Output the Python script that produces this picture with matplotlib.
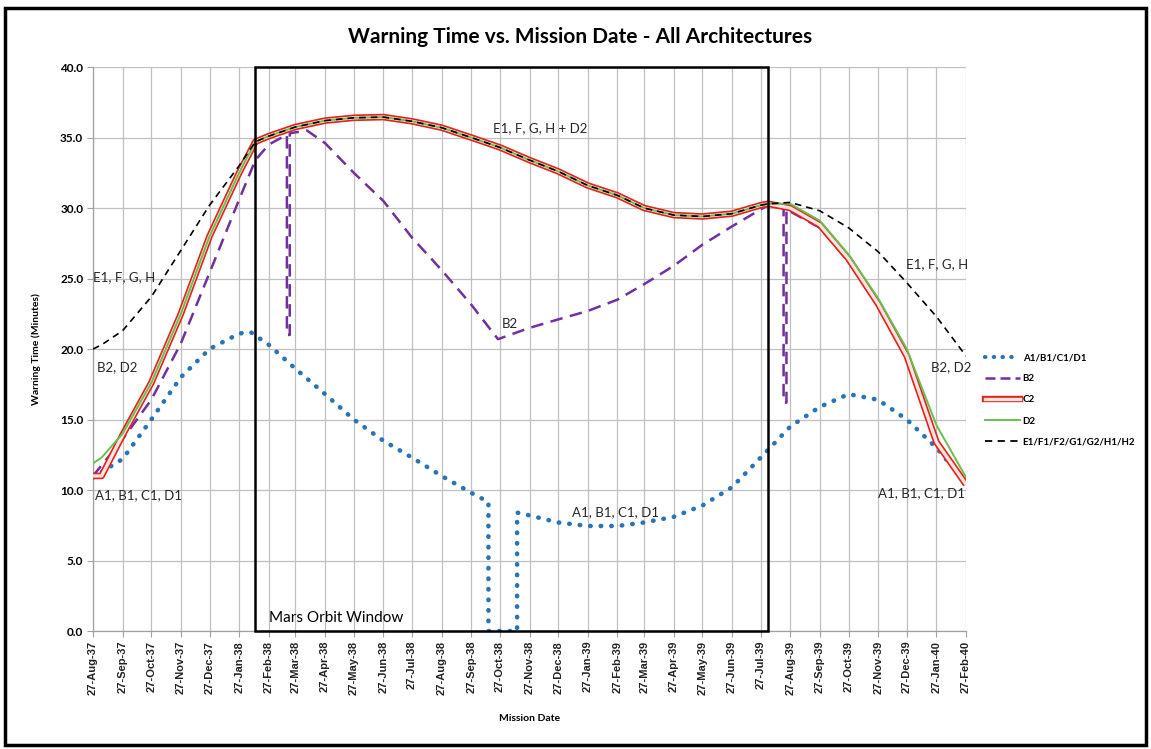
import numpy as np
import pandas as pd
import matplotlib
matplotlib.use("Agg")
import matplotlib.pyplot as plt
import matplotlib.dates as mdates
from matplotlib.patches import Rectangle
from matplotlib.lines import Line2D

# ---- data ----
# A1/B1/C1/D1 (blue dotted)
a_dates = ["1937-08-27", "1937-09-27", "1937-10-27", "1937-11-27", "1937-12-27", "1938-01-27",
           "1938-02-08", "1938-02-27", "1938-03-27", "1938-04-27", "1938-05-27", "1938-06-27",
           "1938-07-27", "1938-08-27", "1938-09-27", "1938-10-15", "1938-10-15", "1938-11-14",
           "1938-11-14", "1938-11-27", "1938-12-27", "1939-01-27", "1939-02-27", "1939-03-27",
           "1939-04-27", "1939-05-27", "1939-06-27", "1939-07-27", "1939-08-27", "1939-09-27",
           "1939-10-27", "1939-11-27", "1939-12-27", "1940-01-27", "1940-02-27"]
a_vals = [10.9, 12.2, 15.0, 18.0, 20.0, 21.1,
          21.2, 20.3, 18.6, 16.8, 15.0, 13.5,
          12.3, 11.0, 9.8, 9.15, 0.0, 0.0,
          8.4, 8.2, 7.7, 7.45, 7.45, 7.7,
          8.1, 8.9, 10.2, 12.3, 14.5, 15.9,
          16.8, 16.4, 15.0, 13.0, 10.5]

# B2 (purple dashed)
b_dates = ["1937-08-27", "1937-09-27", "1937-10-27", "1937-11-27", "1937-12-27", "1938-01-27",
           "1938-02-13", "1938-02-27", "1938-03-18", "1938-03-18", "1938-03-21", "1938-03-21",
           "1938-04-08", "1938-04-27", "1938-05-27", "1938-06-27", "1938-07-27", "1938-08-27",
           "1938-09-27", "1938-10-25", "1938-11-27", "1938-12-27", "1939-01-27", "1939-02-27",
           "1939-03-27", "1939-04-27", "1939-05-27", "1939-06-27", "1939-07-27", "1939-08-04",
           "1939-08-20", "1939-08-20", "1939-08-23", "1939-08-23", "1939-09-27", "1939-10-27",
           "1939-11-27", "1939-12-27", "1940-01-27", "1940-02-27"]
b_vals = [11.0, 13.6, 16.4, 20.4, 25.4, 30.6,
          33.4, 34.5, 35.2, 21.0, 21.0, 35.3,
          35.5, 34.6, 32.5, 30.5, 27.9, 25.6,
          23.15, 20.7, 21.5, 22.1, 22.7, 23.5,
          24.6, 25.9, 27.4, 28.7, 29.9, 30.2,
          30.0, 16.2, 16.2, 29.9, 28.6, 26.2,
          23.0, 19.3, 13.4, 10.5]

# common curve inside the Mars orbit window (C2, D2, E1... overlap)
win_dates = ["1938-02-13", "1938-02-27", "1938-03-27", "1938-04-27", "1938-05-27", "1938-06-27",
             "1938-07-27", "1938-08-27", "1938-09-27", "1938-10-27", "1938-11-27", "1938-12-27",
             "1939-01-27", "1939-02-27", "1939-03-27", "1939-04-27", "1939-05-27", "1939-06-27",
             "1939-07-27", "1939-08-04"]
win_vals = [34.7, 35.1, 35.75, 36.2, 36.4, 36.45,
            36.15, 35.7, 35.0, 34.3, 33.4, 32.6,
            31.6, 30.9, 30.0, 29.5, 29.4, 29.6,
            30.2, 30.3]

pre_dates = ["1937-08-27", "1937-09-05", "1937-09-27", "1937-10-27", "1937-11-27", "1937-12-27", "1938-01-27"]
post_dates = ["1939-08-27", "1939-09-27", "1939-10-27", "1939-11-27", "1939-12-27", "1940-01-27", "1940-02-27"]

c2_pre = [11.0, 11.0, 13.9, 17.6, 22.5, 28.0, 32.5]
c2_post = [30.0, 28.8, 26.4, 23.2, 19.5, 13.4, 10.4]
d2_pre = [11.9, 12.3, 14.0, 17.6, 22.5, 28.0, 32.5]
d2_post = [30.3, 29.1, 26.7, 23.6, 20.0, 14.6, 10.9]
e1_pre = [20.0, 20.3, 21.3, 23.7, 27.0, 30.2, 33.0]
e1_post = [30.4, 29.8, 28.6, 26.9, 24.7, 22.3, 19.5]

window_start = "1938-02-13"
window_end = "1939-08-04"

labels = ["A1/B1/C1/D1", "B2", "C2", "D2", "E1/F1/F2/G1/G2/H1/H2"]

# ---- build series ----
def d(lst):
    return pd.to_datetime(lst)

full_dates = d(pre_dates + win_dates + post_dates)
c2 = c2_pre + win_vals + c2_post
d2 = d2_pre + win_vals + d2_post
e1 = e1_pre + win_vals + e1_post

blue = "#2874B8"
purple = "#7030A0"
red = "#E32219"
green = "#66C04E"

fig = plt.figure(figsize=(11.51, 7.49), dpi=100)
ax = fig.add_axes([0.0808, 0.1575, 0.7585, 0.753])

ax.plot(d(a_dates), a_vals, color=blue, lw=3.3, linestyle=(0, (0.1, 2.2)),
        dash_capstyle="round", zorder=3)
ax.plot(d(b_dates), b_vals, color=purple, lw=1.8, linestyle=(0, (5, 3)), zorder=4)
ax.plot(full_dates, c2, color=red, lw=4.8, solid_capstyle="butt", zorder=5)
ax.plot(full_dates, c2, color="#FCE4E2", lw=2.4, solid_capstyle="butt", zorder=6)
ax.plot(full_dates, d2, color=green, lw=1.4, zorder=7)
ax.plot(full_dates, e1, color="black", lw=1.2, linestyle=(0, (4, 3)), zorder=8)

# Mars orbit window box
x0 = mdates.date2num(pd.Timestamp(window_start))
x1 = mdates.date2num(pd.Timestamp(window_end))
ax.add_patch(Rectangle((x0, 0), x1 - x0, 40, fill=False, ec="black", lw=1.8, zorder=9, clip_on=False))

months = pd.date_range("1937-08-27", "1940-02-27", freq=pd.DateOffset(months=1))
ax.set_xlim(mdates.date2num(months[0]), mdates.date2num(months[-1]))
ax.set_ylim(0, 40)
ax.set_xticks(months)
ax.xaxis.set_major_formatter(mdates.DateFormatter("%d-%b-%y"))
ax.set_yticks(np.arange(0, 40.1, 5))
ax.set_yticklabels([f"{v:.1f}" for v in np.arange(0, 40.1, 5)])

for lab in ax.get_xticklabels():
    lab.set_rotation(90)
    lab.set_fontsize(8)
    lab.set_family("Liberation Sans")
    lab.set_fontweight("bold")
    lab.set_color("#222222")
for lab in ax.get_yticklabels():
    lab.set_fontsize(8.5)
    lab.set_family("Lato")
    lab.set_fontweight("bold")

ax.grid(True, color="#C0C0C0", lw=0.9)
ax.set_axisbelow(True)
for s in ["top", "right"]:
    ax.spines[s].set_visible(False)
for s in ["left", "bottom"]:
    ax.spines[s].set_color("#A0A0A0")
    ax.spines[s].set_linewidth(0.9)
ax.tick_params(axis="both", color="#A0A0A0", length=4, pad=3)

ax.set_ylabel("Warning Time (Minutes)", fontsize=7.5, fontweight="bold", family="Lato", labelpad=14)
ax.set_xlabel("Mission Date", fontsize=7.5, fontweight="bold", family="Lato", labelpad=14)
fig.text(0.504, 0.951, "Warning Time vs. Mission Date - All Architectures", ha="center", va="center",
         fontsize=15, fontweight="bold", family="Lato")

# annotations
notes = [
    ("1938-10-20", 35.7, "E1, F, G, H + D2"),
    ("1937-08-27", 25.1, "E1, F, G, H"),
    ("1937-08-31", 18.7, "B2, D2"),
    ("1937-08-29", 9.65, "A1, B1, C1, D1"),
    ("1938-10-29", 21.8, "B2"),
    ("1939-01-10", 8.45, "A1, B1, C1, D1"),
    ("1939-12-26", 26.0, "E1, F, G, H"),
    ("1940-01-21", 18.7, "B2, D2"),
    ("1939-11-27", 9.8, "A1, B1, C1, D1"),
]
for dt, yv, txt in notes:
    ax.text(pd.Timestamp(dt), yv, txt, ha="left", va="center", fontsize=9.5,
            family="Lato", color="#262626", zorder=10)
ax.text(pd.Timestamp("1938-02-27"), 0.9, "Mars Orbit Window", ha="left", va="center",
        fontsize=11, family="Lato", color="black", zorder=10)

# legend
handles = [
    Line2D([], [], color=blue, lw=3.0, linestyle=(0, (0.1, 2.0)), dash_capstyle="round"),
    Line2D([], [], color=purple, lw=1.8, linestyle=(0, (4, 2))),
    (Line2D([], [], color=red, lw=4.6), Line2D([], [], color="#FCE4E2", lw=2.4)),
    Line2D([], [], color=green, lw=1.4),
    Line2D([], [], color="black", lw=1.3, linestyle=(0, (4, 3))),
]
fig.legend(handles, labels, loc="center left", bbox_to_anchor=(0.848, 0.466), frameon=False,
           prop={"family": "Lato", "weight": "bold", "size": 7}, handlelength=3.6,
           handletextpad=0.3, labelspacing=1.25)

# outer frame
fig.patches.append(Rectangle((0.004, 0.005), 0.992, 0.984, transform=fig.transFigure,
                             fill=False, ec="black", lw=2.5))

fig.savefig("out.png", dpi=100)
